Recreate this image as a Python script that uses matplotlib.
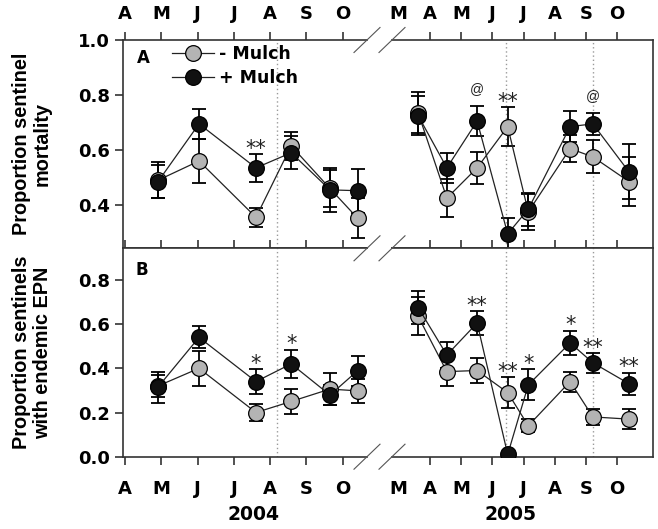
import matplotlib
matplotlib.use("Agg")
import matplotlib.pyplot as plt
from matplotlib.lines import Line2D

plt.rcParams['font.family'] = ['DejaVu Sans']
plt.rcParams['font.weight'] = 'bold'

# ---------------- data (sampling dates in months, 4 = April) ----------------
months = [4, 5, 6, 7, 8, 9, 10]
month_labels = ['A', 'M', 'J', 'J', 'A', 'S', 'O']

dates_2004 = [4.91, 6.04, 7.61, 8.58, 9.65, 10.41]
dates_2005 = [3.62, 4.54, 5.51, 6.49, 7.15, 8.49, 9.22, 10.38]
mulch_2004 = [8.18]          # dotted reference lines
mulch_2005 = [6.44, 9.21]

# panel A: proportion sentinel mortality
mort_minus_2004 = [0.49, 0.56, 0.355, 0.615, 0.46, 0.352]
mort_minus_2004_se = [0.065, 0.08, 0.035, 0.05, 0.067, 0.073]
mort_plus_2004 = [0.485, 0.695, 0.535, 0.59, 0.455, 0.452]
mort_plus_2004_se = [0.06, 0.055, 0.05, 0.06, 0.08, 0.08]

mort_minus_2005 = [0.735, 0.425, 0.535, 0.685, 0.375, 0.605, 0.575, 0.485]
mort_minus_2005_se = [0.075, 0.07, 0.058, 0.07, 0.065, 0.05, 0.06, 0.09]
mort_plus_2005 = [0.725, 0.535, 0.705, 0.295, 0.385, 0.685, 0.695, 0.52]
mort_plus_2005_se = [0.07, 0.055, 0.055, 0.058, 0.06, 0.055, 0.04, 0.1]

# panel B: proportion sentinels with endemic EPN
epn_minus_2004 = [0.32, 0.40, 0.20, 0.25, 0.306, 0.298]
epn_minus_2004_se = [0.05, 0.08, 0.04, 0.055, 0.074, 0.055]
epn_plus_2004 = [0.315, 0.54, 0.34, 0.42, 0.279, 0.389]
epn_plus_2004_se = [0.07, 0.05, 0.055, 0.065, 0.045, 0.068]

epn_minus_2005 = [0.635, 0.385, 0.39, 0.29, 0.14, 0.34, 0.18, 0.17]
epn_minus_2005_se = [0.086, 0.065, 0.055, 0.07, 0.03, 0.045, 0.035, 0.045]
epn_plus_2005 = [0.675, 0.46, 0.605, 0.01, 0.325, 0.515, 0.425, 0.33]
epn_plus_2005_se = [0.073, 0.06, 0.055, 0.0, 0.07, 0.055, 0.045, 0.05]

# significance marks: (point index, text)
sig_mort_2004 = [(2, '**')]
sig_mort_2005 = [(2, '@'), (3, '**'), (6, '@')]
sig_epn_2004 = [(2, '*'), (3, '*')]
sig_epn_2005 = [(2, '**'), (3, '**'), (4, '*'), (5, '*'), (6, '**'), (7, '**')]

GRAY = '#b4b4b4'
W, H = 658, 529

fig = plt.figure(figsize=(W / 100, H / 100), dpi=100)


def px_box(x0, y0, x1, y1):
    return [x0 / W, 1 - y1 / H, (x1 - x0) / W, (y1 - y0) / H]


XL, XB, XM, XR = 123, 367, 392, 653
YT, YM, YB = 40, 248.3, 456.7

axA1 = fig.add_axes(px_box(XL, YT, XB, YM))
axA2 = fig.add_axes(px_box(XM, YT, XR, YM))
axB1 = fig.add_axes(px_box(XL, YM, XB, YB))
axB2 = fig.add_axes(px_box(XM, YM, XR, YB))


def draw_series(ax, x, minus, minus_se, plus, plus_se, sig):
    ax.errorbar(x, minus, yerr=minus_se, fmt='none', ecolor='black',
                elinewidth=1.3, capsize=5.2, capthick=1.3, zorder=2)
    ax.errorbar(x, plus, yerr=plus_se, fmt='none', ecolor='black',
                elinewidth=1.3, capsize=5.2, capthick=1.3, zorder=2)
    l1, = ax.plot(x, minus, '-o', color='#222222', lw=0.9, ms=11.3,
                  mfc=GRAY, mec='black', mew=0.9, zorder=3, label='- Mulch')
    l2, = ax.plot(x, plus, '-o', color='#222222', lw=0.9, ms=11.3,
                  mfc='#111111', mec='black', mew=0.9, zorder=4, label='+ Mulch')
    for i, s in sig:
        top = max(minus[i] + minus_se[i], plus[i] + plus_se[i])
        if s == '@':
            ax.annotate(s, (x[i], top), xytext=(0, 9), textcoords='offset points',
                        ha='center', va='baseline', fontsize=10,
                        fontweight='normal', family='Liberation Sans', color='#222222')
        else:
            ax.annotate(s, (x[i], top), xytext=(0, -0.5), textcoords='offset points',
                        ha='center', va='baseline', fontsize=15,
                        fontweight='normal', color='#222222')
    return l1, l2


handles = draw_series(axA1, dates_2004, mort_minus_2004, mort_minus_2004_se,
                      mort_plus_2004, mort_plus_2004_se, sig_mort_2004)
draw_series(axA2, dates_2005, mort_minus_2005, mort_minus_2005_se,
            mort_plus_2005, mort_plus_2005_se, sig_mort_2005)
draw_series(axB1, dates_2004, epn_minus_2004, epn_minus_2004_se,
            epn_plus_2004, epn_plus_2004_se, sig_epn_2004)
draw_series(axB2, dates_2005, epn_minus_2005, epn_minus_2005_se,
            epn_plus_2005, epn_plus_2005_se, sig_epn_2005)

for ax, lines in [(axA1, mulch_2004), (axB1, mulch_2004),
                  (axA2, mulch_2005), (axB2, mulch_2005)]:
    for d in lines:
        ax.axvline(d, color='#9a9a9a', ls=(0, (1, 2)), lw=1, zorder=1)

for ax in (axA1, axB1):
    ax.set_xlim(3.945, 10.67)
for ax in (axA2, axB2):
    ax.set_xlim(2.782, 11.147)
    # March label without a tick
    ax.set_xticks([3], ['M'], minor=True)
for ax in (axA1, axA2):
    ax.set_ylim(0.2425, 1.0)
for ax in (axB1, axB2):
    ax.set_ylim(0.0, 0.943)

axA1.set_yticks([0.4, 0.6, 0.8, 1.0])
axB1.set_yticks([0.0, 0.2, 0.4, 0.6, 0.8])

for ax in (axA1, axA2, axB1, axB2):
    ax.set_xticks(months, month_labels)
    for sp in ax.spines.values():
        sp.set_linewidth(1.2)
        sp.set_color('#333333')
    top_panel = ax in (axA1, axA2)
    ax.tick_params(axis='x', which='major', direction='out', length=5.5, width=1.2,
                   color='#333333', top=True, bottom=True, labelsize=13,
                   labeltop=top_panel, labelbottom=not top_panel,
                   pad=6.5 if top_panel else 11)
    ax.tick_params(axis='x', which='minor', length=0, top=True, bottom=True,
                   labelsize=13, labeltop=top_panel, labelbottom=not top_panel,
                   pad=6.5 + 5.5 if top_panel else 11 + 5.5)
    ax.tick_params(axis='y', direction='out', length=6, width=1.2,
                   color='#333333', labelsize=13, pad=3.5)

for ax in (axA1, axB1):
    ax.spines['right'].set_visible(False)
for ax in (axA2, axB2):
    ax.spines['left'].set_visible(False)
    ax.tick_params(axis='y', left=False, labelleft=False)

axA1.text(0.082, 0.913, 'A', transform=axA1.transAxes, fontsize=12,
          ha='center', va='center')
axB1.text(0.078, 0.895, 'B', transform=axB1.transAxes, fontsize=12,
          ha='center', va='center')

axA1.legend(handles=handles, loc='upper left',
            bbox_to_anchor=(172 / W, 1 - 45 / H), bbox_transform=fig.transFigure,
            frameon=False, fontsize=12.5, handlelength=2.4, handletextpad=0.3,
            labelspacing=0.35, borderpad=0, borderaxespad=0)

ylab_font = ['Liberation Sans', 'DejaVu Sans']
fig.text(32 / W, 1 - (YT + YM) / 2 / H, 'Proportion sentinel\nmortality',
         rotation=90, ha='center', va='center', fontsize=14.3, linespacing=1.1,
         family=ylab_font)
fig.text(32 / W, 1 - (YM + YB) / 2 / H, 'Proportion sentinels\nwith endemic EPN',
         rotation=90, ha='center', va='center', fontsize=14.3, linespacing=1.1,
         family=ylab_font)

fig.text(253.5 / W, 1 - 515 / H, '2004', ha='center', va='center', fontsize=13.5)
fig.text(510.5 / W, 1 - 515 / H, '2005', ha='center', va='center', fontsize=13.5)

# axis break marks
for xe in (XB, XM):
    for ye in (YT, YM, YB):
        fig.add_artist(Line2D([(xe - 13) / W, (xe + 13) / W],
                              [1 - (ye + 12.5) / H, 1 - (ye - 12.5) / H],
                              transform=fig.transFigure, color='#555555', lw=0.8))

fig.savefig('out.png', dpi=100)
